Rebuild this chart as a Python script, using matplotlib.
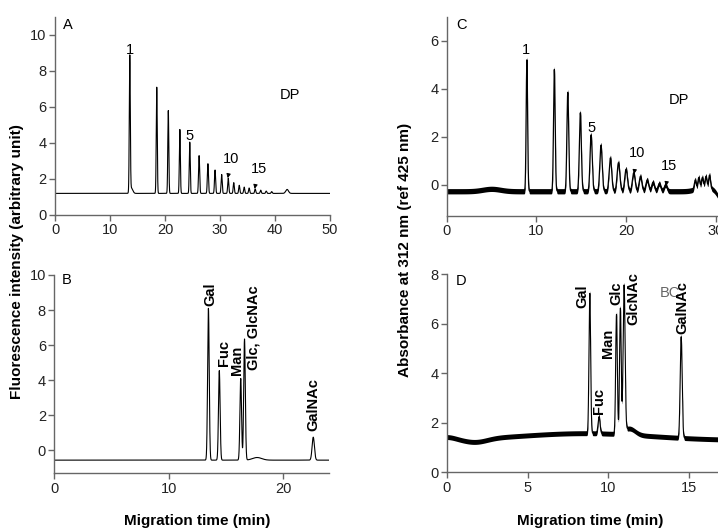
import numpy as np
import matplotlib
matplotlib.use("Agg")
import matplotlib.pyplot as plt

plt.rcParams['font.family'] = ['Liberation Sans', 'DejaVu Sans']

W, H = 718, 529

# Panel A: fluorescence, DP ladder
a_base = 1.2
a_peak_t = [13.6, 18.5, 20.6, 22.7, 24.5, 26.2, 27.8, 29.1, 30.3, 31.5,
            32.5, 33.5, 34.4, 35.3, 36.4, 37.4, 38.4, 39.4, 42.2, 13.9]
a_peak_h = [8.75, 7.1, 5.8, 4.75, 4.05, 3.3, 2.85, 2.5, 2.25, 2.05,
            1.8, 1.65, 1.55, 1.5, 1.45, 1.38, 1.33, 1.3, 1.42, 1.5]
a_peak_w = [0.09, 0.09, 0.09, 0.09, 0.09, 0.1, 0.1, 0.1, 0.1, 0.1,
            0.1, 0.1, 0.1, 0.1, 0.1, 0.1, 0.1, 0.1, 0.25, 0.25]

# Panel B: fluorescence, monosaccharides
b_base = -0.55
b_peak_t = [13.45, 14.4, 16.27, 16.6, 17.7, 22.6]
b_peak_h = [8.1, 4.55, 4.1, 6.35, -0.4, 0.76]
b_peak_w = [0.07, 0.07, 0.07, 0.07, 0.4, 0.1]
b_names = ["Gal", "Fuc", "Man", "Glc, GlcNAc", "GalNAc"]
b_name_t = [13.6, 14.82, 15.98, 17.38, 22.62]
b_name_y = [8.26, 4.79, 4.32, 4.6, 1.1]

# Panel C: absorbance, DP ladder
c_base = -0.27
c_drift_t = [5.0, 30.6, 28.7]
c_drift_h = [0.1, -0.35, 0.2]
c_drift_w = [1.0, 0.4, 0.8]
c_peak_t = [8.94, 12.0, 13.5, 14.9, 16.1, 17.2, 18.25, 19.15, 20.0, 20.85,
            21.6, 22.35, 23.0, 23.7, 24.4, 27.7, 28.1, 28.5, 28.9, 29.3]
c_peak_h = [5.2, 4.8, 3.85, 3.0, 2.08, 1.65, 1.12, 0.92, 0.65, 0.5,
            0.35, 0.2, 0.1, 0.05, 0.0, 0.2, 0.3, 0.3, 0.35, 0.4]
c_peak_w = [0.08, 0.09, 0.1, 0.11, 0.12, 0.13, 0.14, 0.15, 0.15, 0.15,
            0.15, 0.15, 0.15, 0.15, 0.15, 0.1, 0.1, 0.1, 0.1, 0.1]

# Panel D: absorbance, monosaccharides
d_base = 1.3
d_drift_t = [8.5, 1.8, 0.0, 11.3]
d_drift_h = [0.28, -0.14, 0.1, 0.25]
d_drift_w = [4.0, 0.7, 0.5, 0.35]
d_peak_t = [8.85, 9.42, 10.5, 10.74, 10.97, 14.5]
d_peak_h = [7.23, 2.25, 6.38, 6.63, 7.57, 5.48]
d_peak_w = [0.05, 0.06, 0.05, 0.05, 0.06, 0.06]
d_names = ["Gal", "Fuc", "Man", "Glc", "GlcNAc", "GalNAc"]
d_name_t = [8.4, 9.42, 9.98, 10.49, 11.56, 14.57]
d_name_y = [6.63, 2.34, 4.6, 6.76, 5.95, 5.6]


def gauss(t, c, w):
    return np.exp(-0.5 * ((t - c) / w) ** 2)


def trace(t, base, peak_t, peak_h, peak_w, drift_t=(), drift_h=(), drift_w=()):
    def bl(x):
        v = base + 0 * np.asarray(x, dtype=float)
        for c, h, w in zip(drift_t, drift_h, drift_w):
            v = v + h * gauss(x, c, w)
        return v
    y = bl(t)
    for c, h, w in zip(peak_t, peak_h, peak_w):
        y = y + (h - bl(c)) * gauss(t, c, w)
    return y


def px_axes(left, top, right, bottom):
    ax = fig.add_axes([left / W, 1 - bottom / H, (right - left) / W, (bottom - top) / H])
    for s in ["top", "right"]:
        ax.spines[s].set_visible(False)
    for s in ["left", "bottom"]:
        ax.spines[s].set_color("#666666")
        ax.spines[s].set_linewidth(1.0)
    ax.tick_params(direction="out", length=4, width=1, color="#666666",
                   labelsize=10.5, labelcolor="#222222", pad=2)
    return ax


fig = plt.figure(figsize=(W / 100, H / 100), dpi=100)

# ---- A
ax = px_axes(55, 17, 330, 215)
t = np.linspace(0, 50, 20001)
ax.plot(t, trace(t, a_base, a_peak_t, a_peak_h, a_peak_w), color="black", lw=0.8)
ax.set_xlim(0, 50)
ax.set_ylim(0, 11)
ax.set_xticks(np.arange(0, 51, 10))
ax.set_yticks(np.arange(0, 11, 2))
ax.text(2.4, 10.55, "A", fontsize=10.5, ha="center", va="center")
ax.text(42.7, 6.67, "DP", fontsize=10.5, ha="center", va="center")
ax.text(13.6, 9.17, "1", fontsize=10.5, ha="center", va="center")
ax.text(24.5, 4.39, "5", fontsize=10.5, ha="center", va="center")
ax.annotate("10", xy=(31.4, 2.05), xytext=(32.1, 3.09), fontsize=10.5, ha="center", va="center",
            arrowprops=dict(arrowstyle="-|>", color="black", lw=0.7, mutation_scale=6, shrinkA=5, shrinkB=0))
ax.annotate("15", xy=(36.3, 1.45), xytext=(37.0, 2.54), fontsize=10.5, ha="center", va="center",
            arrowprops=dict(arrowstyle="-|>", color="black", lw=0.7, mutation_scale=6, shrinkA=5, shrinkB=0))

# ---- B
ax = px_axes(54.3, 275, 329.3, 473.3)
t = np.linspace(0, 24, 12001)
ax.plot(t, trace(t, b_base, b_peak_t, b_peak_h, b_peak_w), color="black", lw=0.8)
ax.set_xlim(0, 24)
ax.set_ylim(-1.3, 10)
ax.set_xticks([0, 10, 20])
ax.set_yticks(np.arange(0, 11, 2))
ax.text(1.08, 9.72, "B", fontsize=10.5, ha="center", va="center")
for name, x, y in zip(b_names, b_name_t, b_name_y):
    ax.text(x, y, name, rotation=90, fontsize=10.5, fontweight="bold", ha="center", va="bottom")

# ---- C
ax = px_axes(446.7, 16.6, 446.7 + 30.2 * 8.97, 216)
t = np.linspace(0, 30.2, 15001)
yc = trace(t, c_base, c_peak_t, c_peak_h, c_peak_w, c_drift_t, c_drift_h, c_drift_w)
ax.fill_between(t, yc - 0.11, yc + 0.11, color="black", lw=0)
ax.plot(t, yc, color="black", lw=0.9)
ax.set_xlim(0, 30.2)
ax.set_ylim(-1.3, 7)
ax.set_xticks([0, 10, 20, 30])
ax.set_yticks([0, 2, 4, 6])
ax.text(1.68, 6.65, "C", fontsize=10.5, ha="center", va="center")
ax.text(25.9, 3.53, "DP", fontsize=10.5, ha="center", va="center")
ax.text(8.83, 5.6, "1", fontsize=10.5, ha="center", va="center")
ax.text(16.1, 2.35, "5", fontsize=10.5, ha="center", va="center")
ax.annotate("10", xy=(20.9, 0.45), xytext=(21.2, 1.32), fontsize=10.5, ha="center", va="center",
            arrowprops=dict(arrowstyle="-|>", color="black", lw=0.7, mutation_scale=6, shrinkA=5, shrinkB=0))
ax.annotate("15", xy=(24.45, -0.05), xytext=(24.8, 0.8), fontsize=10.5, ha="center", va="center",
            arrowprops=dict(arrowstyle="-|>", color="black", lw=0.7, mutation_scale=6, shrinkA=5, shrinkB=0))

# ---- D
ax = px_axes(446.7, 274.3, 718, 472.3)
t = np.linspace(0, 16.8, 16801)
yd = trace(t, d_base, d_peak_t, d_peak_h, d_peak_w, d_drift_t, d_drift_h, d_drift_w)
ax.fill_between(t, yd - 0.1, yd + 0.1, color="black", lw=0)
ax.plot(t, yd, color="black", lw=0.8)
ax.set_xlim(0, 271.3 / 16.17)
ax.set_ylim(0, 8)
ax.set_xticks([0, 5, 10, 15])
ax.set_yticks(np.arange(0, 9, 2))
ax.text(0.88, 7.73, "D", fontsize=10.5, ha="center", va="center")
ax.text(13.8, 7.23, "BC", fontsize=10.5, color="#666666", ha="center", va="center")
for name, x, y in zip(d_names, d_name_t, d_name_y):
    ax.text(x, y, name, rotation=90, fontsize=10.5, fontweight="bold", ha="center", va="bottom")

# shared labels
fig.text(17 / W, 1 - 262 / H, "Fluorescence intensity (arbitrary unit)", rotation=90,
         fontsize=11, fontweight="bold", ha="center", va="center")
fig.text(405 / W, 1 - 250 / H, "Absorbance at 312 nm (ref 425 nm)", rotation=90,
         fontsize=11, fontweight="bold", ha="center", va="center")
fig.text(197 / W, 1 - 521 / H, "Migration time (min)", fontsize=11, fontweight="bold",
         ha="center", va="center")
fig.text(590 / W, 1 - 521 / H, "Migration time (min)", fontsize=11, fontweight="bold",
         ha="center", va="center")

fig.savefig("out.png", dpi=100)
